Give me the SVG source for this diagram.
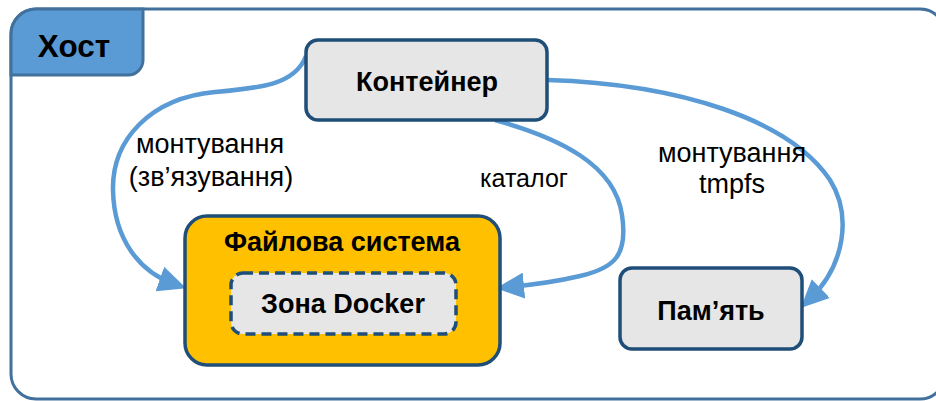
<svg xmlns="http://www.w3.org/2000/svg" width="936" height="401" viewBox="0 0 936 401">
<style>
.node{stroke:#1F4E79;stroke-width:3.5}
.gray{fill:#E6E6E6}
.bold{font-family:"Liberation Sans",Arial,sans-serif;font-weight:bold;font-size:27px;fill:#000;text-anchor:middle}
.lbl{font-family:"Liberation Sans",Arial,sans-serif;font-size:27px;fill:#000;text-anchor:middle}
.conn{fill:none;stroke:#5B9BD5;stroke-width:4.5}
</style>
<defs>
<marker id="arr" viewBox="0 0 28 26" refX="15" refY="13" markerWidth="28" markerHeight="26" markerUnits="userSpaceOnUse" orient="auto">
<path d="M0,0 L28,13 L0,26 Z" fill="#5B9BD5"/>
</marker>
</defs>
<g id="host">
<rect x="11" y="9" width="934" height="390" rx="25" fill="#fff" stroke="#41719C" stroke-width="3"/>
<path d="M11,75 H128 A15,15 0 0 0 143,60 V9 H36 A25,25 0 0 0 11,34 Z" fill="#5B9BD5" stroke="#41719C" stroke-width="3"/>
<text x="74" y="57" class="bold" style="font-size:31.5px">Хост</text>
</g>
<g id="connectors">
<path class="conn" d="M306,56 C 295,85 260,88 215,92 C 150,98 112,140 113,190 C 114,240 140,272 174,284" marker-end="url(#arr)"/>
<path class="conn" d="M495,120 C 560,138 615,165 622,215 C 628,255 615,268 580,276 C 555,282 530,285 509,287" marker-end="url(#arr)"/>
<path class="conn" d="M547,80 C 680,84 790,120 830,180 C 852,215 845,265 810,299" marker-end="url(#arr)"/>
<text x="210" y="153" class="lbl">монтування</text>
<text x="211" y="186" class="lbl">(зв’язування)</text>
<text x="524" y="187" class="lbl" style="font-size:25px">каталог</text>
<text x="732" y="162" class="lbl">монтування</text>
<text x="732" y="193" class="lbl">tmpfs</text>
</g>
<g id="container">
<rect x="306" y="40" width="241" height="80" rx="12" class="node gray"/>
<text x="427" y="91" class="bold">Контейнер</text>
</g>
<g id="filesystem">
<rect x="185" y="216" width="315" height="149" rx="22" class="node" fill="#FFC000"/>
<text x="342" y="251" class="bold">Файлова система</text>
</g>
<g id="docker-zone">
<rect x="231" y="273" width="225" height="61" rx="12" class="gray" stroke="#1F4E79" stroke-width="3.5" stroke-dasharray="10 6"/>
<text x="343" y="313" class="bold">Зона Docker</text>
</g>
<g id="memory">
<rect x="620" y="268" width="182" height="81" rx="12" class="node gray"/>
<text x="711" y="320" class="bold">Пам’ять</text>
</g>
</svg>
